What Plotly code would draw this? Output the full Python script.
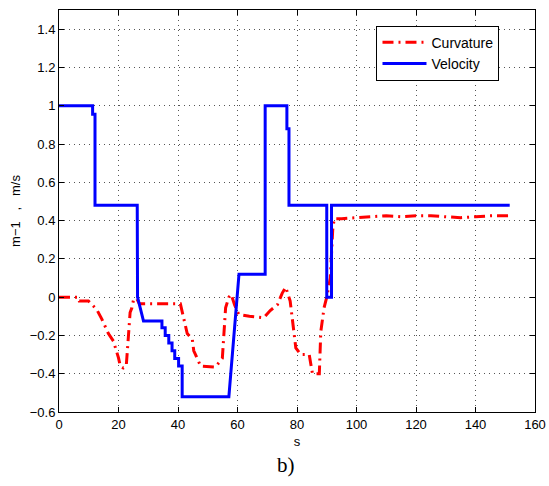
import plotly.graph_objects as go

# Velocity (m/s) vs s
vel_x = [0, 11.3, 11.3, 12.1, 12.1, 26.3, 26.4, 28.4, 34.6, 34.6, 35.7, 35.7, 36.9, 36.9,
         38.0, 38.0, 38.9, 38.9, 40.2, 40.2, 41.4, 41.4, 57.1, 60.5, 69.3, 69.3, 76.6,
         76.6, 77.3, 77.3, 90.0, 90.0, 91.6, 91.6, 151.5]
vel_y = [1.0, 1.0, 0.955, 0.955, 0.48, 0.48, 0.0, -0.125, -0.125, -0.16, -0.16, -0.20, -0.20, -0.24,
         -0.24, -0.28, -0.28, -0.32, -0.32, -0.36, -0.36, -0.52, -0.52, 0.12, 0.12, 1.0, 1.0,
         0.88, 0.88, 0.48, 0.48, 0.0, 0.0, 0.48, 0.48]

# Curvature (1/m) vs s
cur_x = [0, 6.4, 6.8, 9.9, 12.7, 14.4, 16.6, 18.3, 20.0, 20.6, 21.6, 22.6, 23.4, 23.9, 24.5,
         25.1, 26.2, 27.0, 40.8, 41.7, 43.1, 44.8, 45.3, 47.6, 52.6, 54.9, 56.0, 57.1, 57.9,
         59.0, 60.4, 64.0, 68.8, 71.0, 73.4, 75.0, 76.2, 77.7, 79.6, 81.3, 84.1, 85.2, 87.5,
         88.0, 89.1, 90.0, 91.2, 92.0, 92.5, 95, 100, 105, 110, 115, 120, 125, 130, 135, 140,
         145, 151.5]
cur_y = [0, 0, -0.02, -0.02, -0.065, -0.115, -0.19, -0.23, -0.317, -0.36, -0.37, -0.36, -0.19,
         -0.08, -0.056, -0.01, -0.01, -0.035, -0.035, -0.09, -0.19, -0.22, -0.28, -0.36, -0.365,
         -0.32, -0.056, 0.0, 0.014, -0.04, -0.09, -0.10, -0.108, -0.07, -0.04, 0.02, 0.052,
         -0.02, -0.265, -0.30, -0.30, -0.40, -0.40, -0.18, -0.056, 0.0, 0.1, 0.35, 0.41, 0.41,
         0.415, 0.42, 0.425, 0.42, 0.425, 0.425, 0.42, 0.415, 0.42, 0.425, 0.425]

x_ticks = [0, 20, 40, 60, 80, 100, 120, 140, 160]
y_ticks = [-0.6, -0.4, -0.2, 0, 0.2, 0.4, 0.6, 0.8, 1, 1.2, 1.4]

FONT = "Arial, Liberation Sans, sans-serif"

fig = go.Figure()
fig.add_trace(go.Scatter(x=cur_x, y=cur_y, mode="lines", name="Curvature",
                         line=dict(color="#ff0000", width=3, dash="11px,5px,2px,5px")))
fig.add_trace(go.Scatter(x=vel_x, y=vel_y, mode="lines", name="Velocity",
                         line=dict(color="#0000ff", width=3)))

axis_common = dict(showline=True, linecolor="black", linewidth=1, mirror="ticks",
                   ticks="inside", ticklen=5, tickcolor="black", automargin=False,
                   ticklabeloverflow="allow",
                   showgrid=True, gridcolor="#555555", gridwidth=1, griddash="1px,4px",
                   zeroline=False, tickfont=dict(family=FONT, size=13, color="black"))

fig.update_xaxes(range=[0, 160], tickvals=x_ticks, ticktext=[str(v) for v in x_ticks],
                 title=dict(text="s", font=dict(family=FONT, size=13, color="black"), standoff=6),
                 **axis_common)
fig.update_yaxes(range=[-0.6, 1.5], tickvals=y_ticks,
                 ticktext=[("−" if v < 0 else "") + (("%g" % abs(v))) for v in y_ticks],
                 title=dict(text="m−1   ,   m/s", font=dict(family=FONT, size=13, color="black"), standoff=6),
                 **axis_common)

fig.add_annotation(text="b)", xref="paper", yref="paper", x=0.477, y=-0.132,
                   xanchor="center", yanchor="middle", showarrow=False,
                   font=dict(family="Liberation Serif, Times New Roman, serif", size=21, color="black"))

fig.update_layout(
    width=549, height=486,
    margin=dict(l=59, r=14, t=10, b=74, autoexpand=False),
    paper_bgcolor="white", plot_bgcolor="white",
    showlegend=True,
    legend=dict(x=0.667, y=0.961, xanchor="left", yanchor="top",
                bgcolor="white", bordercolor="black", borderwidth=1,
                font=dict(family=FONT, size=14, color="black"),
                tracegroupgap=0, itemwidth=44),
)

# remove the page's default body margin so the figure fills the window exactly
fig.write_html("out.html", config={"displayModeBar": False},
               post_script="document.body.style.margin='0';document.body.style.overflow='hidden';")
